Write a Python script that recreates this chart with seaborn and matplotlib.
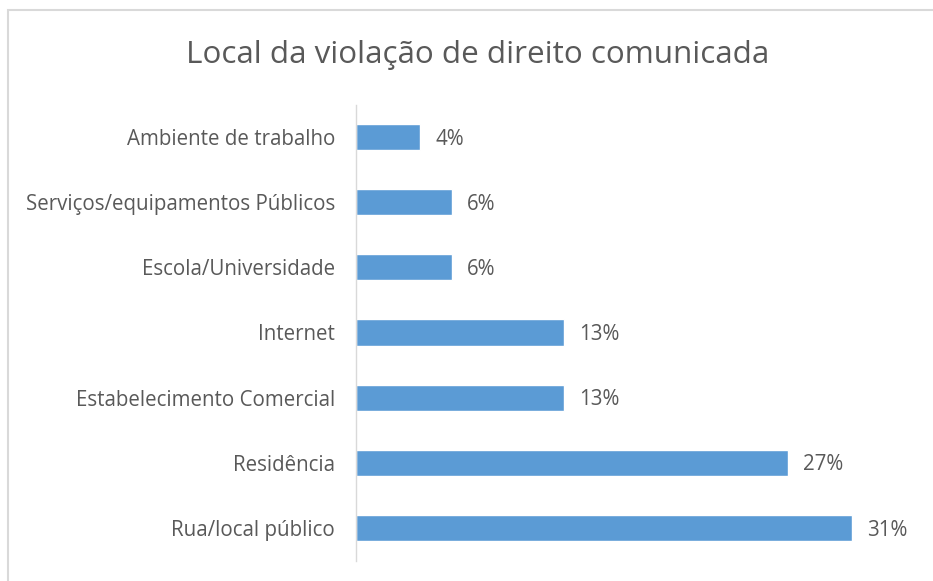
import pandas as pd
import matplotlib.pyplot as plt
import seaborn as sns
from matplotlib.patches import Rectangle

# data
locais = ["Ambiente de trabalho", "Serviços/equipamentos Públicos", "Escola/Universidade",
          "Internet", "Estabelecimento Comercial", "Residência", "Rua/local público"]
percentuais = [4, 6, 6, 13, 13, 27, 31]

title = "Local da violação de direito comunicada"
bar_color = "#5b9bd5"
text_color = "#595959"


def main():
    data = pd.DataFrame({"local": locais, "pct": percentuais})

    sns.set_theme(style="white")
    plt.rcParams["font.family"] = ["Open Sans", "DejaVu Sans"]

    fig = plt.figure(figsize=(9.33, 5.81), dpi=100)
    ax = fig.add_axes([356 / 933, 1 - 560.5 / 581, (916 - 356) / 933, (560.5 - 104.5) / 581])

    sns.barplot(data=data, x="pct", y="local", orient="h", color=bar_color,
                width=0.4, saturation=1, ax=ax)

    for i, v in enumerate(data["pct"]):
        ax.annotate(f"{v}%", (v, i), xytext=(11, -1.5), textcoords="offset points",
                    ha="left", va="center", fontsize=14.8, color=text_color)

    ax.set_xlim(0, 35)
    ax.set_ylim(6.5, -0.5)
    ax.set_xlabel("")
    ax.set_ylabel("")
    ax.set_xticks([])
    ax.tick_params(axis="y", length=0, pad=15, labelsize=14.8, labelcolor=text_color)
    for side in ["top", "right", "bottom"]:
        ax.spines[side].set_visible(False)
    ax.spines["left"].set_color("#d9d9d9")
    ax.spines["left"].set_linewidth(1)

    fig.text(478 / 933, 1 - 55 / 581, title, ha="center", va="center",
             fontsize=22.6, color=text_color)

    # chart area border
    fig.patches.append(Rectangle((8 / 933, -0.1), 1.2, 1 - 10 / 581 + 0.1,
                                 transform=fig.transFigure, fill=False,
                                 edgecolor="#d9d9d9", linewidth=1.5))

    fig.savefig("out.png", dpi=100)
    plt.close(fig)


if __name__ == "__main__":
    main()
